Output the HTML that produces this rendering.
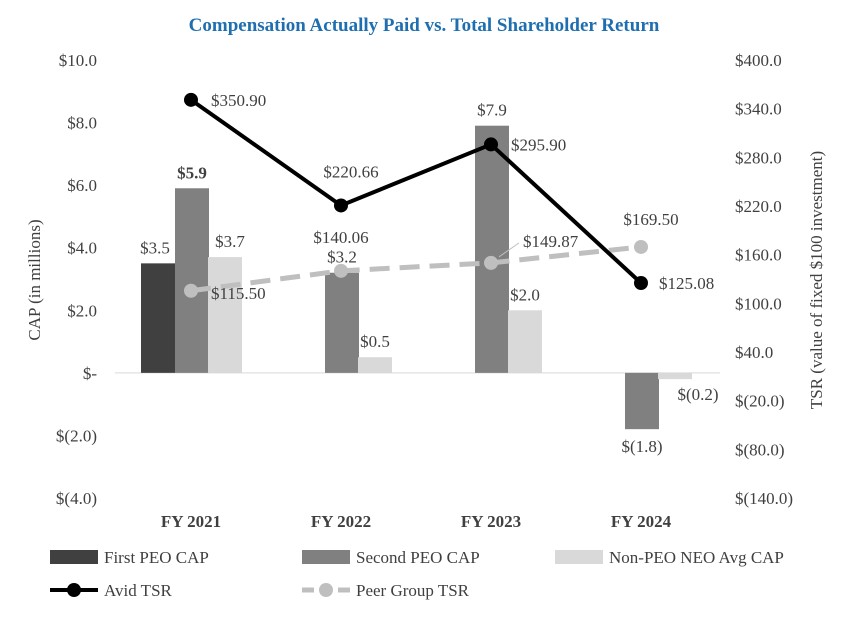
<!DOCTYPE html>
<html><head><meta charset="utf-8"><style>
body{margin:0;background:#fff;}
svg text{font-family:"Liberation Serif",serif;}
</style></head><body>
<svg id="chart" width="849" height="615" xmlns="http://www.w3.org/2000/svg">
<text x="424" y="31" text-anchor="middle" font-size="19" font-weight="bold" fill="#1f6fb0">Compensation Actually Paid vs. Total Shareholder Return</text>
<text transform="translate(40,280) rotate(-90)" text-anchor="middle" font-size="17" fill="#404040">CAP (in millions)</text>
<text transform="translate(822,280) rotate(-90)" text-anchor="middle" font-size="17" fill="#404040">TSR (value of fixed $100 investment)</text>
<g id="g"></g>
</svg>
<script>
const categories=["FY 2021","FY 2022","FY 2023","FY 2024"];
const firstPeo=[3.5,0,0,0];
const secondPeo=[5.9,3.2,7.9,-1.8];
const nonPeo=[3.7,0.5,2.0,-0.2];
const avidTsr=[350.90,220.66,295.90,125.08];
const peerTsr=[115.50,140.06,149.87,169.50];
const leftTicks=[10,8,6,4,2,0,-2,-4];
const leftTickLabels=["$10.0","$8.0","$6.0","$4.0","$2.0","$-","$(2.0)","$(4.0)"];
const rightTicks=[400,340,280,220,160,100,40,-20,-80,-140];
const rightTickLabels=["$400.0","$340.0","$280.0","$220.0","$160.0","$100.0","$40.0","$(20.0)","$(80.0)","$(140.0)"];

const NS="http://www.w3.org/2000/svg";
const g=document.getElementById('g');
const plotTop=60,plotBot=498;
const yL=v=>plotTop+(10-v)/14*(plotBot-plotTop);
const yR=v=>plotTop+(400-v)/540*(plotBot-plotTop);
const xC=i=>191+i*150;
function mk(t,a,txt){const e=document.createElementNS(NS,t);for(const k in a)e.setAttribute(k,a[k]);if(txt!==undefined)e.textContent=txt;g.appendChild(e);return e;}
function fmtM(v){return v<0?"$("+Math.abs(v).toFixed(1)+")":"$"+v.toFixed(1);}

leftTicks.forEach((v,i)=>{const e=mk('text',{x:97,y:yL(v)+6,'text-anchor':'end','font-size':17,fill:'#404040'},leftTickLabels[i]);

});
rightTicks.forEach((v,i)=>{const e=mk('text',{x:735,y:yR(v)+6,'font-size':17,fill:'#404040'},rightTickLabels[i]);

});
const zl=mk('line',{x1:115,x2:720,y1:yL(0),y2:yL(0),stroke:'#d9d9d9','stroke-width':1});


categories.forEach((c,i)=>{const e=mk('text',{x:xC(i),y:527,'text-anchor':'middle','font-size':17,'font-weight':'bold',fill:'#404040'},c);

});

const series=[[firstPeo,'#404040',-50,'first-peo'],[secondPeo,'#808080',-16,'second-peo'],[nonPeo,'#d9d9d9',17,'non-peo']];
series.forEach(([arr,col,off,nm])=>{arr.forEach((v,i)=>{if(v===0)return;
const x=xC(i)+off,y0=yL(0),y1=yL(v);
const r=mk('rect',{x:x,y:Math.min(y0,y1),width:34,height:Math.abs(y1-y0),fill:col});


let lx=x+17,ly=v>=0?y1-10:y1+23;
if(nm==='non-peo'&&v<0){lx=x+40;ly=y1+21;}
if(nm==='non-peo'&&i===0){lx=x+22;}
if(nm==='first-peo'&&i===0){lx=x+14;}
const t=mk('text',{x:lx,y:ly,'text-anchor':'middle','font-size':17,fill:'#404040','font-weight':(nm==='second-peo'&&i===0)?'bold':'normal'},fmtM(v));

});});

const pp=peerTsr.map((v,i)=>[xC(i),yR(v)]);
const pl=mk('polyline',{points:pp.map(p=>p.join(',')).join(' '),fill:'none',stroke:'#bfbfbf','stroke-width':5,'stroke-dasharray':'20,10'});


pp.forEach(p=>{const c=mk('circle',{cx:p[0],cy:p[1],r:7,fill:'#bfbfbf'});

});
const ap=avidTsr.map((v,i)=>[xC(i),yR(v)]);
const al=mk('polyline',{points:ap.map(p=>p.join(',')).join(' '),fill:'none',stroke:'#000','stroke-width':4});


ap.forEach(p=>{const c=mk('circle',{cx:p[0],cy:p[1],r:7,fill:'#000'});

});
const aOff=[[20,6,'start'],[10,-28,'middle'],[20,6,'start'],[18,6,'start']];
avidTsr.forEach((v,i)=>{const t=mk('text',{x:ap[i][0]+aOff[i][0],y:ap[i][1]+aOff[i][1],'text-anchor':aOff[i][2],'font-size':17,fill:'#404040'},"$"+v.toFixed(2));

});
const pOff=[[20,8,'start'],[0,-28,'middle'],[32,-16,'start'],[10,-22,'middle']];
const ll=mk('line',{x1:pp[2][0]+8,y1:pp[2][1]-6,x2:pp[2][0]+28,y2:pp[2][1]-20,stroke:'#bfbfbf','stroke-width':1});


peerTsr.forEach((v,i)=>{const t=mk('text',{x:pp[i][0]+pOff[i][0],y:pp[i][1]+pOff[i][1],'text-anchor':pOff[i][2],'font-size':17,fill:'#404040'},"$"+v.toFixed(2));

});

const leg=[[50,557,'rect','#404040','First PEO CAP'],[302,557,'rect','#808080','Second PEO CAP'],[555,557,'rect','#d9d9d9','Non-PEO NEO Avg CAP'],[50,590,'line','#000','Avid TSR'],[302,590,'dash','#bfbfbf','Peer Group TSR']];
leg.forEach(([x,y,k,col,lab])=>{
if(k==='rect'){const r=mk('rect',{x:x,y:y-7,width:48,height:14,fill:col});

}
else{const l=mk('line',{x1:x,x2:x+48,y1:y,y2:y,stroke:col,'stroke-width':k==='line'?4:5,'stroke-dasharray':k==='dash'?'12,6':'none'});


const m=mk('circle',{cx:x+24,cy:y,r:7,fill:col});

}
const t=mk('text',{x:x+54,y:y+6,'font-size':17,fill:'#404040'},lab);

});
</script>
</body></html>
